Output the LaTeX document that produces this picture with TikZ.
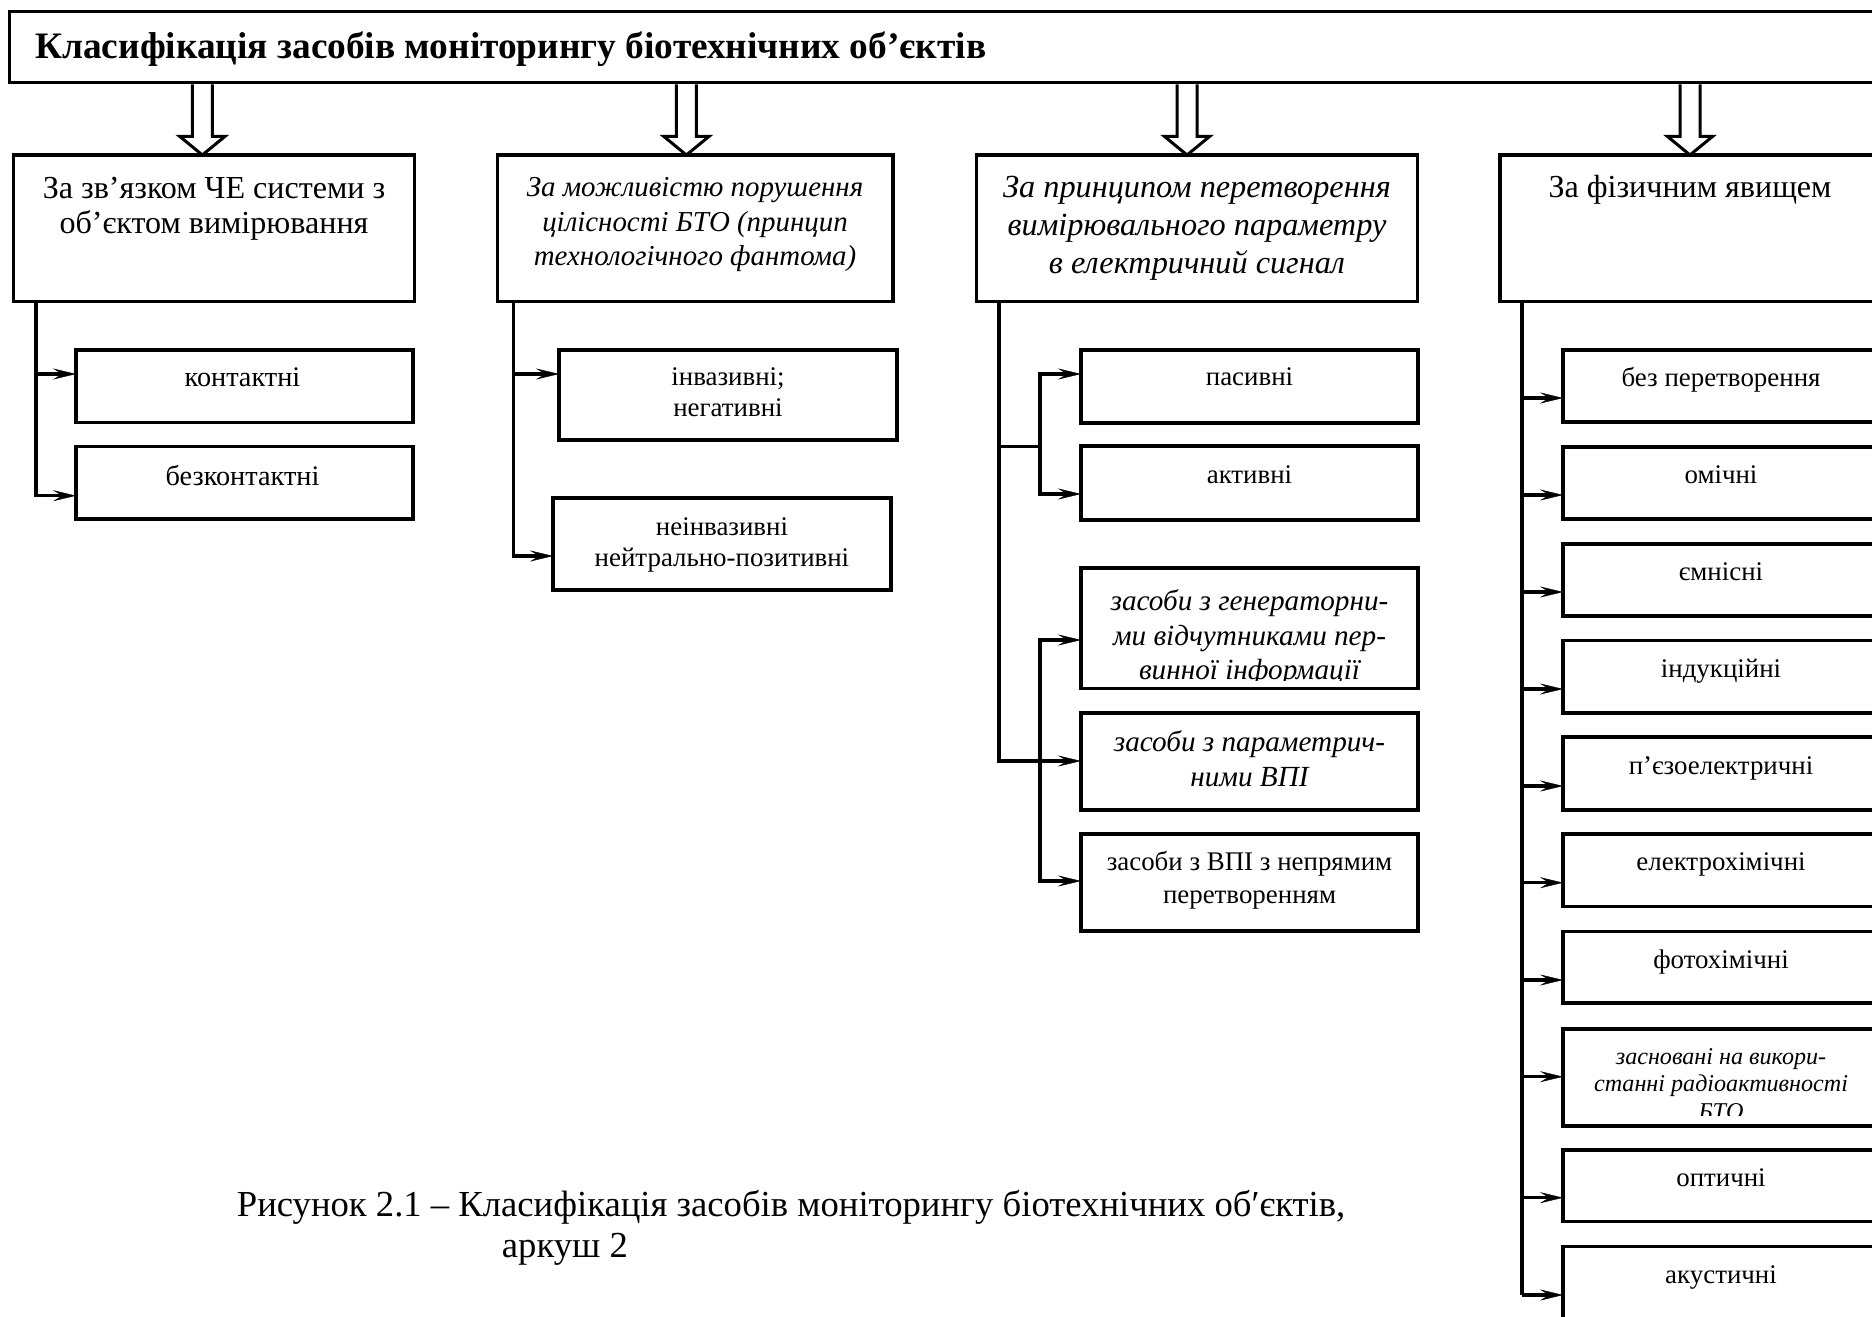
\documentclass[tikz,border=0pt]{standalone}
\usepackage{fontspec}
\setmainfont{Liberation Serif}
\usetikzlibrary{arrows.meta,calc}
\newcommand\fsz[1]{\fontsize{#1}{#1}\selectfont}
\begin{document}
\begin{tikzpicture}[x=1bp,y=-1bp,
  box/.style={draw, line width=3.2bp, inner sep=0pt, outer sep=0pt, anchor=north west},
  ln/.style={line width=3.2bp},
  arr/.style={line width=3.2bp, -{Stealth[length=23bp,width=11bp,inset=9bp,line width=0.4bp]}},
  hollow/.style={line width=3bp, fill=white, line join=miter},
  ttl/.style={anchor=base west, inner sep=0pt, font=\fsz{37.5}\bfseries},
  hdr/.style={anchor=base, inner sep=0pt, font=\fsz{32.2}},
  hdri/.style={anchor=base, inner sep=0pt, font=\fsz{32.4}\itshape},
  hdrb/.style={anchor=base, inner sep=0pt, font=\fsz{29}\itshape},
  sub/.style={anchor=base, inner sep=0pt, font=\fsz{27}},
  subk/.style={anchor=base, inner sep=0pt, font=\fsz{28.4}},
  subi/.style={anchor=base, inner sep=0pt, font=\fsz{29.3}\itshape},
  subs/.style={anchor=base, inner sep=0pt, font=\fsz{24.2}\itshape},
  captxt/.style={anchor=base west, inner sep=0pt, font=\fsz{36.8}}]
\fill[white] (0,0) rectangle (1872,1317);
\clip (0,0) rectangle (1872,1317);

% title
\node[box, minimum width=1900bp, minimum height=71bp] (title) at (9.5,11.7) {};
\node[ttl] (titlet) at (35,58.3) {Класифікація засобів моніторингу біотехнічних об’єктів};

% header boxes
\node[box, minimum width=401.3bp, minimum height=146.3bp] (A) at (13.5,155) {};
\node[box, minimum width=395.2bp, minimum height=146.3bp] (B) at (497.8,155) {};
\node[box, minimum width=441.1bp, minimum height=146.3bp] (C) at (976.5,155) {};
\node[box, minimum width=380bp, minimum height=146.3bp] (D) at (1500,155) {};

% hollow arrows
\coordinate (tA) at ([xshift=-11.8bp]A.north);
\coordinate (tB) at ([xshift=-9bp]B.north);
\coordinate (tC) at ([xshift=-10bp]C.north);
\coordinate (tD) at ([xshift=0bp]D.north);
\foreach \t in {tA,tB,tC,tD}{
  \filldraw[hollow] ($(\t |- title.south)+(-10,1.6)$) -- ++(0,52.2) -- ++(-12.5,0)
     -- (\t) -- ++(22.5,-18.5) -- ++(-12.5,0) -- ++(0,-52.2);
}

% header texts
\node[hdr] (At1) at (214,199) {За зв’язком ЧЕ системи з};
\node[hdr] (At2) at (214,234) {об’єктом вимірювання};
\node[hdrb] (Bt1) at (695,197) {За можливістю порушення};
\node[hdrb] (Bt2) at (695,231.5) {цілісності БТО (принцип};
\node[hdrb] (Bt3) at (695,266) {технологічного фантома)};
\node[hdri] (Ct1) at (1197,197.5) {За принципом перетворення};
\node[hdri] (Ct2) at (1197,235.5) {вимірювального параметру};
\node[hdri] (Ct3) at (1197,273.5) {в електричний сигнал};
\node[hdr] (Dt1) at (1690,197.5) {За фізичним явищем};

% column 1
\node[box, minimum width=337bp, minimum height=72.7bp] (k1) at (76,350) {};
\node[box, minimum width=337bp, minimum height=72.3bp] (k2) at (76,446.7) {};
\node[subk] (k1t) at (242.5,386.7) {контактні};
\node[subk] (k2t) at (242.5,485) {безконтактні};
\coordinate (a0) at ([xshift=22.5bp]A.south west);
\coordinate (k1in) at ([yshift=-24bp]k1.north west);
\coordinate (k2in) at ([yshift=-49bp]k2.north west);
\draw[arr] (a0) |- (k2in);
\draw[arr] (a0 |- k1in) -- (k1in);

% column 2
\node[box, minimum width=338bp, minimum height=90bp] (i1) at (559,350) {};
\node[box, minimum width=338bp, minimum height=92bp] (i2) at (553,498) {};
\node[sub] (i1t1) at (728,386) {інвазивні;};
\node[sub] (i1t2) at (728,416.7) {негативні};
\node[sub] (i2t1) at (722,535) {неінвазивні};
\node[sub] (i2t2) at (722,566) {нейтрально-позитивні};
\coordinate (b0) at ([xshift=15.6bp]B.south west);
\coordinate (i1in) at ([yshift=-24bp]i1.north west);
\coordinate (i2in) at ([yshift=-58bp]i2.north west);
\draw[arr] (b0) |- (i2in);
\draw[arr] (b0 |- i1in) -- (i1in);

% column 3
\node[box, minimum width=337bp, minimum height=73bp] (p1) at (1081,350) {};
\node[box, minimum width=337bp, minimum height=74bp] (p2) at (1081,446) {};
\node[box, minimum width=337bp, minimum height=120.3bp] (g1) at (1081,568) {};
\node[box, minimum width=337bp, minimum height=97bp] (g2) at (1081,713) {};
\node[box, minimum width=337bp, minimum height=97bp] (g3) at (1081,834) {};
\node[sub] (p1t) at (1249.5,386) {пасивні};
\node[sub] (p2t) at (1249.5,483) {активні};
\begin{scope}
  \clip ([xshift=2bp]g1.north west) rectangle ([xshift=-2bp,yshift=8.3bp]g1.south east);
  \node[subi] (g1t1) at (1249.5,610) {засоби з генераторни-};
  \node[subi] (g1t2) at (1249.5,645) {ми відчутниками пер-};
  \node[subi] (g1t3) at (1249.5,679.5) {винної інформації};
\end{scope}
\node[subi] (g2t1) at (1249.5,751) {засоби з параметрич-};
\node[subi] (g2t2) at (1249.5,786) {ними ВПІ};
\node[sub] (g3t1) at (1249.5,870) {засоби з ВПІ з непрямим};
\node[sub] (g3t2) at (1249.5,903) {перетворенням};
\coordinate (c0) at ([xshift=22.5bp]C.south west);
\coordinate (p1in) at ([yshift=-24bp]p1.north west);
\coordinate (p2in) at ([yshift=-48bp]p2.north west);
\coordinate (g1in) at ([yshift=-72bp]g1.north west);
\coordinate (g2in) at ([yshift=-48bp]g2.north west);
\coordinate (g3in) at ([yshift=-47bp]g3.north west);
\coordinate (s1) at ([xshift=41bp,yshift=-145.5bp]c0);
\draw[arr] (c0) |- (g2in);
\draw[ln] (c0 |- s1) -- (s1);
\draw[arr] (s1) |- (p1in);
\draw[arr] (s1) |- (p2in);
\draw[arr] (s1 |- g2in) |- (g1in);
\draw[arr] (s1 |- g2in) |- (g3in);

% column 4
\coordinate (d0) at ([xshift=22bp]D.south west);
\foreach \i/\tp/\h/\ar/\bl/\lab in {
  1/350/72/48/36.7/без перетворення,
  2/447/72/48/36/омічні,
  3/544/72/48/36/ємнісні,
  4/640.7/72.3/48.3/36.3/індукційні,
  5/737/73/49/37/п’єзоелектричні,
  6/834/72.7/48.7/36.7/електрохімічні,
  7/931.7/71.3/48.3/36.3/фотохімічні,
  9/1150/71.7/47.7/36.7/оптичні,
  10/1246.7/75/48.3/36.3/акустичні}{
  \node[box, minimum width=316bp, minimum height=\h bp] (q\i) at (1563,\tp) {};
  \coordinate (qin\i) at ([yshift=-\ar bp]q\i.north west);
  \node[sub] (qt\i) at (1721,{\tp+\bl}) {\lab};
  \draw[arr] (d0 |- qin\i) -- (qin\i);
}
\node[box, minimum width=316bp, minimum height=97bp] (q8) at (1563,1029) {};
\coordinate (qin8) at ([yshift=-47.7bp]q8.north west);
\draw[arr] (d0 |- qin8) -- (qin8);
\begin{scope}
  \clip ([xshift=2bp]q8.north west) rectangle ([xshift=-2bp,yshift=11bp]q8.south east);
  \node[subs] (qt8a) at (1721,1064) {засновані на викори-};
  \node[subs] (qt8b) at (1721,1091) {станні радіоактивності};
  \node[subs] (qt8c) at (1721,1119) {БТО};
\end{scope}
\draw[ln] (d0) -- (d0 |- qin10);

% caption
\node[captxt] (cap1) at (236.7,1216) {Рисунок 2.1 – Класифікація засобів моніторингу біотехнічних об′єктів,};
\node[captxt] (cap2) at (501.7,1257) {аркуш 2};
\end{tikzpicture}
\end{document}
